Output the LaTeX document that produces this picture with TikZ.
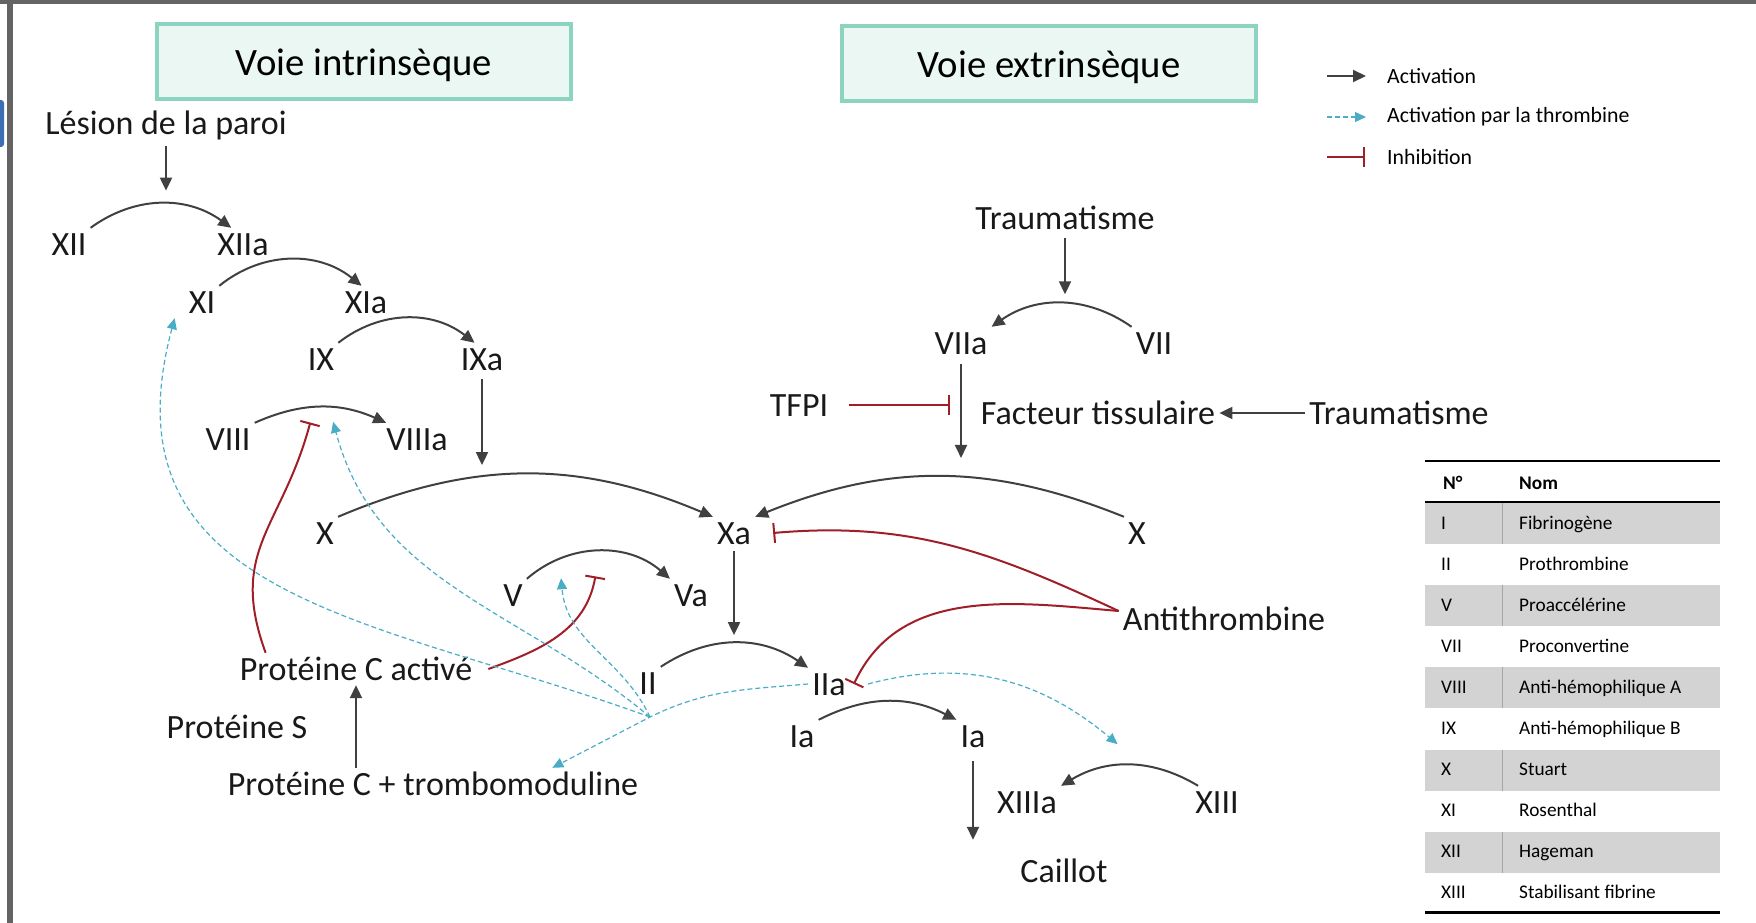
\documentclass[tikz,border=0pt]{standalone}
\usepackage{fontspec}
\setmainfont{Carlito}
\usetikzlibrary{arrows.meta}
\definecolor{mintfill}{RGB}{234,247,243}
\definecolor{mintline}{RGB}{140,212,192}
\definecolor{arrgray}{RGB}{64,64,64}
\definecolor{inhred}{RGB}{160,30,40}
\definecolor{thrcyan}{RGB}{75,172,198}
\definecolor{rowgray}{RGB}{211,211,211}
\definecolor{framegray}{RGB}{100,100,100}
\definecolor{edgeblue}{RGB}{60,110,180}

\begin{document}
\begin{tikzpicture}[x=1pt,y=1pt,
  fac/.style={font=\fontsize{34}{40}\selectfont,text=black!90,inner sep=4pt,text height=23pt,text depth=1pt},
  titre/.style={draw=mintline,fill=mintfill,line width=4pt,minimum width=414pt,minimum height=75pt,text height=27pt,text depth=0pt,font=\fontsize{38.7}{46}\selectfont},
  legende/.style={font=\fontsize{21.8}{26}\selectfont,anchor=west,inner sep=0pt},
  tab/.style={font=\fontsize{19.3}{23}\selectfont,anchor=base west,inner sep=0pt},
  act/.style={arrgray,line width=2pt,-{Triangle[length=13pt,width=12pt]}},
  thr/.style={thrcyan,line width=1.2pt,dash pattern=on 5pt off 3pt,-{Triangle[length=11pt,width=10pt]}},
  inh/.style={inhred,line width=2pt,-{Bar[width=20pt]}}]
\useasboundingbox (0,0) rectangle (1756,-923);
% cadre
\fill[framegray] (0,0) rectangle (1756,-4);
\fill[framegray] (7,0) rectangle (13,-923);
\fill[edgeblue,rounded corners=3pt] (-4,-100) rectangle (4,-147);

% titres
\node[titre] (intr) at (364,-62) {Voie intrinsèque};
\node[titre] (extr) at (1049,-64) {Voie extrinsèque};

% legende
\node[legende] (lg1) at (1387,-76) {Activation};
\node[legende] (lg2) at (1387,-117) {Activation par la thrombine};
\node[legende] (lg3) at (1387,-157) {Inhibition};
\draw[act] ([xshift=-60pt]lg1.west) -- ([xshift=-21pt]lg1.west);
\draw[thr] ([xshift=-60pt]lg2.west) -- ([xshift=-21pt]lg2.west);
\draw[inh] ([xshift=-60pt]lg3.west) -- ([xshift=-22pt]lg3.west);

% voie intrinseque
\node[fac] (lesion) at (166,-124) {Lésion de la paroi};
\node[fac] (xii) at (69,-244) {XII};
\node[fac] (xiia) at (243,-244) {XIIa};
\node[fac] (xi) at (202,-302) {XI};
\node[fac] (xia) at (366,-302) {XIa};
\node[fac] (ix) at (321,-359) {IX};
\node[fac] (ixa) at (482,-359) {IXa};
\node[fac] (viii) at (228,-439) {VIII};
\node[fac] (viiia) at (417,-439) {VIIIa};
\node[fac] (xl) at (325,-533) {X};
\node[fac] (xa) at (734,-533) {Xa};
\node[fac] (v) at (513,-595) {V};
\node[fac] (va) at (691,-595) {Va};
\node[fac] (ii) at (648,-683) {II};
\node[fac] (iia) at (829,-684) {IIa};
\node[fac] (ia1) at (802,-736) {Ia};
\node[fac] (ia2) at (973,-736) {Ia};
\node[fac] (caillot) at (1064,-871) {Caillot};
\node[fac] (xiiia) at (1027,-802) {XIIIa};
\node[fac] (xiii) at (1217,-802) {XIII};
\node[fac] (pca) at (356,-669) {Protéine C activé};
\node[fac] (prots) at (237,-727) {Protéine S};
\node[fac] (pct) at (433,-784) {Protéine C + trombomoduline};

% voie extrinseque
\node[fac] (trauma1) at (1065,-218) {Traumatisme};
\node[fac] (viia) at (961,-343) {VIIa};
\node[fac] (vii) at (1154,-343) {VII};
\node[fac] (tfpi) at (799,-405) {TFPI};
\node[fac] (facteur) at (1098,-413) {Facteur tissulaire};
\node[fac] (trauma2) at (1399,-413) {Traumatisme};
\node[fac] (xr) at (1137,-533) {X};
\node[fac] (anti) at (1224,-619) {Antithrombine};

% activations
\draw[act] (xii.north east) to[bend left=36] coordinate[pos=.5] (m12) ([xshift=18pt]xiia.north west);
\draw[act] (xi.north east) to[bend left=39] ([xshift=21pt]xia.north west);
\draw[act] (ix.north east) to[bend left=38] ([xshift=18pt]ixa.north west);
\draw[act] (viii.north east) to[bend left=24] coordinate[pos=.42] (m8a) coordinate[pos=.6] (m8b) ([xshift=4pt]viiia.north west);
\draw[act] (xl.north east) to[bend left=23] coordinate[pos=.42] (mx) (xa.north west);
\draw[act] (xr.north west) to[bend right=22] coordinate[pos=.44] (mxr) (xa.north east);
\draw[act] (v.north east) to[bend left=41] coordinate[pos=.25] (m5b) coordinate[pos=.48] (m5a) (va.north west);
\draw[act] (ii.north east) to[bend left=34] coordinate[pos=.5] (m2) (iia.north west);
\draw[act] (ia1.north east) to[bend left=27] (ia2.north west);
\draw[act] (vii.north west) to[bend right=35] coordinate[pos=.5] (m7) (viia.north east);
\draw[act] ([xshift=7pt]xiii.north west) to[bend right=31] coordinate[pos=.5] (m13) (xiiia.north east);
\draw[act,shorten <=6pt,shorten >=13pt] (lesion.south) -- (lesion.south |- m12);
\draw[act,shorten <=4pt,shorten >=9pt] (trauma1.south) -- (trauma1.south |- m7);
\draw[act,shorten <=4pt,shorten >=10pt] (ixa.south) -- (ixa.south |- mx);
\draw[act,shorten <=5pt,shorten >=19pt] (viia.south) -- (viia.south |- mxr);
\draw[act,shorten <=2pt,shorten >=8pt] (xa.south) -- (xa.south |- m2);
\draw[act,shorten <=9pt,shorten >=15pt] (ia2.south) -- (ia2.south |- caillot.north);
\draw[act] (pct.north -| pca.south) -- (pca.south);
\draw[act] (trauma2.west) -- (facteur.east);

% inhibitions
\draw[inh,shorten <=17pt,shorten >=11pt] (tfpi.east) -- (tfpi.east -| viia.south);
\draw[inh] ([xshift=30pt]pca.north west) to[out=110,in=-105,looseness=1.2] ([yshift=-15pt]m8a);
\draw[inh] ([xshift=12pt]pca.east) to[out=20,in=-100] ([yshift=-25pt]m5a);
\draw[inh] ([yshift=8pt]anti.west) to[out=155,in=5] ([xshift=18pt]xa.east);
\draw[inh] ([yshift=8pt]anti.west) to[out=175,in=65] ([xshift=4pt]iia.east);

% activations par la thrombine
\coordinate (hub) at (650,-717);
\draw[thr] (iia.west) to[out=185,in=26] (hub) -- ([xshift=-90pt]pct.north east);
\draw[thr] (hub) to[out=160,in=255,looseness=1.2] ([xshift=-10pt]xi.south west);
\draw[thr] (hub) to[out=140,in=-75] ([yshift=-14pt]m8b);
\draw[thr] (hub) to[out=115,in=-85] ([yshift=-20pt]m5b);
\draw[thr] ([xshift=18pt]iia.east) to[out=15,in=140] ([shift={(-12pt,21pt)}]m13);

% tableau
\foreach \k in {0,2,...,8}{
  \fill[rowgray] (1425,{-503-41.1*\k}) rectangle (1720,{-544-41.1*\k});
  \draw[black!35,line width=1pt] (1502,{-503-41.1*\k}) -- (1502,{-544-41.1*\k});
}
\draw[line width=2pt] (1425,-461) -- (1720,-461);
\draw[line width=2.5pt] (1425,-502) -- (1720,-502);
\draw[line width=3pt] (1425,-912) -- (1720,-912);
\node[tab,font=\fontsize{19.3}{23}\selectfont\bfseries] (hnum) at (1443,-489) {N°};
\node[tab,font=\fontsize{19.3}{23}\selectfont\bfseries] (hnom) at (1519,-489) {Nom};
\foreach \num/\nom [count=\k from 0] in {I/Fibrinogène,II/Prothrombine,V/Proaccélérine,VII/Proconvertine,VIII/Anti-hémophilique A,IX/Anti-hémophilique B,X/Stuart,XI/Rosenthal,XII/Hageman,XIII/Stabilisant fibrine}{
  \node[tab] (num\k) at (1441,{-529-41.1*\k}) {\num};
  \node[tab] (nom\k) at (1519,{-529-41.1*\k}) {\nom};
}
\end{tikzpicture}
\end{document}
